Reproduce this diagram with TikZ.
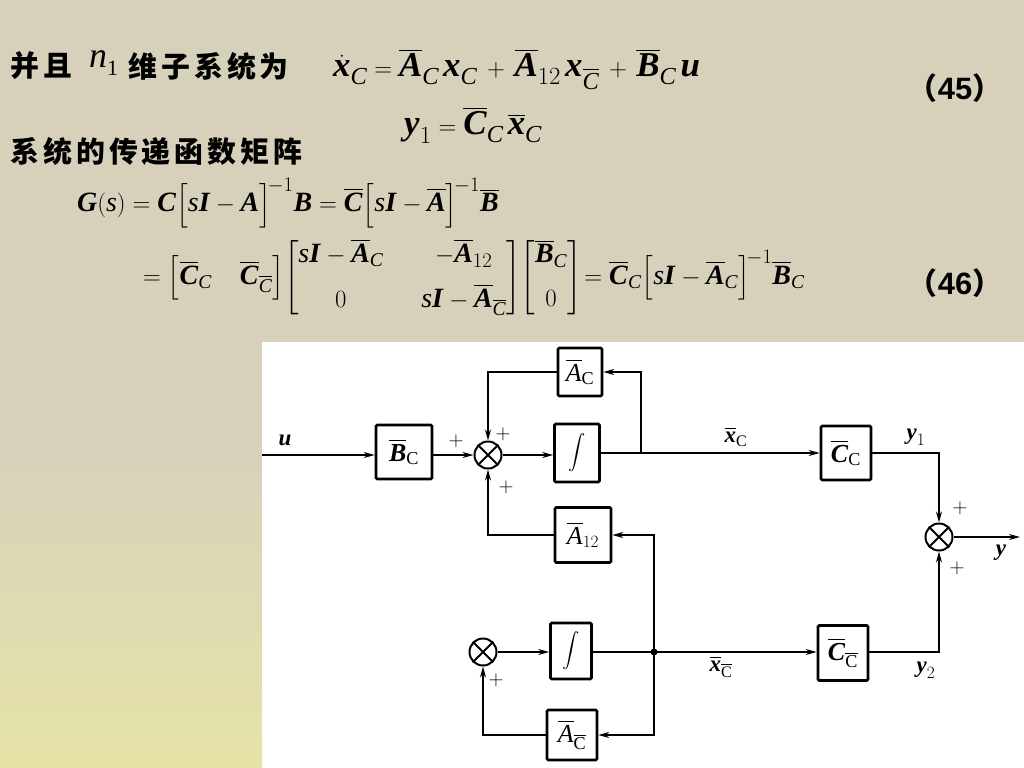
\documentclass[tikz,border=0pt]{standalone}
\usepackage{amsmath}
\usepackage{fontspec}
\setmainfont{Liberation Serif}
\newfontfamily\cjk[LetterSpace=14]{Noto Sans CJK SC}
\newfontfamily\cjkp{Noto Sans CJK SC}
\newfontfamily\numsans{Liberation Sans}
\usetikzlibrary{arrows.meta}
\definecolor{bgtop}{RGB}{215,209,188}
\definecolor{bgbot}{RGB}{229,227,167}
\newcommand\bi[1]{\textbf{\textit{#1}}}
\newcommand\ob[1]{\overline{\bi{#1}}}
\newcommand\oi[1]{\overline{\textit{#1}}}
\newcommand\sC{\textit{C}}
\newcommand\rC{\textrm{C}}
\newcommand\pls{\mathbin{\,+\,}}
\tikzset{
  blk/.style={draw, line width=2.6pt, rounded corners=1.2pt, inner sep=0pt, fill=white},
  sumj/.style={draw, circle, line width=2pt, minimum size=27bp, inner sep=0pt},
  ln/.style={line width=1.6pt},
  arr/.style={ln, -{Stealth[length=11bp,width=6bp]}},
  lab/.style={font=\fontsize{23}{26}\selectfont, inner sep=0pt},
  pl/.style={font=\fontsize{20}{24}\selectfont, inner sep=0pt},
  cjkt/.style={font=\cjk\bfseries\fontsize{29}{32}\selectfont, inner sep=0pt, anchor=west},
  eqn/.style={inner sep=0pt, anchor=west},
}
\begin{document}
\begin{tikzpicture}[x=1bp,y=-1bp]
\useasboundingbox (0,0) rectangle (1024,768);
\fill[bgtop] (0,0) rectangle (1024,768);
\shade[top color=bgtop, bottom color=bgbot] (0,440) rectangle (1024,768);
\fill[white] (262,342) rectangle (1024,768);

% ---- top text
\node[cjkt] (t1) at (10,66) {并且};
\node[inner sep=0pt, anchor=west] (n1) at (89,63) {\fontsize{36}{40}\selectfont\textit{n}\raisebox{-0.2em}{\fontsize{22}{24}\selectfont 1}};
\node[cjkt] (t2) at (128,66) {维子系统为};
\node[eqn, font=\fontsize{35}{40}\selectfont] (e1) at (333,69) {$\dot{\bi{x}}_{\sC} = \ob{A}_{\sC}\,\bi{x}_{\sC} \pls \ob{A}_{12}\,\bi{x}_{\overline{\sC}} \pls \ob{B}_{\sC}\,\bi{u}$};
\node[eqn, font=\fontsize{35}{40}\selectfont] (e2) at (404,125) {$\bi{y}_{1} = \ob{C}_{\sC}\,\ob{x}_{\sC}$};
\node[inner sep=0pt] (n45) at (955,88) {\cjkp\bfseries\fontsize{30}{32}\selectfont （\numsans\bfseries\fontsize{31}{32}\selectfont 45\cjkp\bfseries\fontsize{30}{32}\selectfont ）};
\node[cjkt] (t3) at (10,151) {系统的传递函数矩阵};
\node[eqn, font=\fontsize{28}{32}\selectfont] (g1) at (77,203) {$\bi{G}(\textit{s}) = \bi{C}\Bigl[\textit{s}\bi{I}-\bi{A}\Bigr]^{\!-1}\bi{B} = \ob{C}\Bigl[\textit{s}\bi{I}-\ob{A}\Bigr]^{\!-1}\ob{B}$};
\node[eqn, font=\fontsize{28}{32}\selectfont] (g2) at (143,278) {$=\Bigl[\ob{C}_{\sC}\quad \ob{C}_{\overline{\sC}}\Bigr]\!\begin{bmatrix}\textit{s}\bi{I}-\ob{A}_{\sC} & \quad-\ob{A}_{12}\\[12pt] 0 & \quad\textit{s}\bi{I}-\ob{A}_{\overline{\sC}}\end{bmatrix}\!\begin{bmatrix}\ob{B}_{\sC}\\[12pt] 0\end{bmatrix}\!=\ob{C}_{\sC}\Bigl[\textit{s}\bi{I}-\ob{A}_{\sC}\Bigr]^{\!-1}\ob{B}_{\sC}$};
\node[inner sep=0pt] (n46) at (955,283) {\cjkp\bfseries\fontsize{30}{32}\selectfont （\numsans\bfseries\fontsize{31}{32}\selectfont 46\cjkp\bfseries\fontsize{30}{32}\selectfont ）};

% ---- block diagram
\node[blk, minimum width=56bp, minimum height=54bp] (BC) at (404,452) {\fontsize{26}{28}\selectfont$\ob{B}_{\rC}$};
\node[sumj] (S1) at (488,455) {};
\node[blk, minimum width=45bp, minimum height=58bp] (I1) at (577,453) {\fontsize{18}{20}\selectfont$\displaystyle\int$};
\node[blk, minimum width=44bp, minimum height=48bp] (AC) at (580,372) {\fontsize{26}{28}\selectfont$\oi{A}_{\rC}$};
\node[blk, minimum width=50bp, minimum height=54bp] (CC) at (846,453) {\fontsize{26}{28}\selectfont$\ob{C}_{\rC}$};
\node[blk, minimum width=56bp, minimum height=55bp] (A12) at (583,535) {\fontsize{26}{28}\selectfont$\oi{A}_{12}$};
\node[sumj] (S2) at (939,537) {};
\node[sumj] (S3) at (483,652) {};
\node[blk, minimum width=41bp, minimum height=56bp] (I2) at (571,651) {\fontsize{18}{20}\selectfont$\displaystyle\int$};
\node[blk, minimum width=50bp, minimum height=50bp] (ACb) at (572,735) {\fontsize{26}{28}\selectfont$\oi{A}_{\overline{\rC}}$};
\node[blk, minimum width=50bp, minimum height=55bp] (CCb) at (843,653) {\fontsize{26}{28}\selectfont$\ob{C}_{\overline{\rC}}$};
\foreach \s in {S1,S2,S3}{
  \draw[line width=2pt] (\s.north east) -- (\s.south west) (\s.north west) -- (\s.south east);
}
\coordinate (uin) at (262,455);
\coordinate (tap) at (641,453);
\coordinate (J) at (654,652);
\coordinate (yout) at (1020,537);
\fill (J) circle (3.5bp);

\draw[arr] (uin) -- (BC.west |- uin);
\draw[arr] (BC.east |- S1) -- (S1.west);
\draw[arr] (S1.east) -- (I1.west |- S1);
\draw[arr] (I1.east) -- (CC.west);
\draw[arr] (tap) |- (AC.east);
\draw[arr] (AC.west) -| (S1.north);
\draw[arr] (A12.west) -| (S1.south);
\draw[arr] (J) |- (A12.east);
\draw[arr] (S3.east) -- (I2.west |- S3);
\draw[ln] (I2.east |- J) -- (J);
\draw[arr] (J) -- (CCb.west |- J);
\draw[arr] (J) |- (ACb.east);
\draw[arr] (ACb.west) -| (S3.south);
\draw[arr] (CC.east) -| (S2.north);
\draw[arr] (CCb.east |- J) -| (S2.south);
\draw[arr] (S2.east) -- (yout);

% labels
\node[lab] (lu) at (285,440) {$\bi{u}$};
\node[pl] (p1) at (456,441) {$+$};
\node[pl] (p2) at (503,434) {$+$};
\node[pl] (p3) at (506,487) {$+$};
\node[pl] (p4) at (960,508) {$+$};
\node[pl] (p5) at (957,568) {$+$};
\node[pl] (p6) at (496,680) {$+$};
\node[lab] (lx1) at (736,437) {$\ob{x}_{\rC}$};
\node[lab] (ly1) at (916,437) {$\bi{y}_{1}$};
\node[lab] (ly) at (1001,553) {$\bi{y}$};
\node[lab] (lx2) at (721,667) {$\ob{x}_{\overline{\rC}}$};
\node[lab] (ly2) at (926,670) {$\bi{y}_{2}$};
\end{tikzpicture}
\end{document}
